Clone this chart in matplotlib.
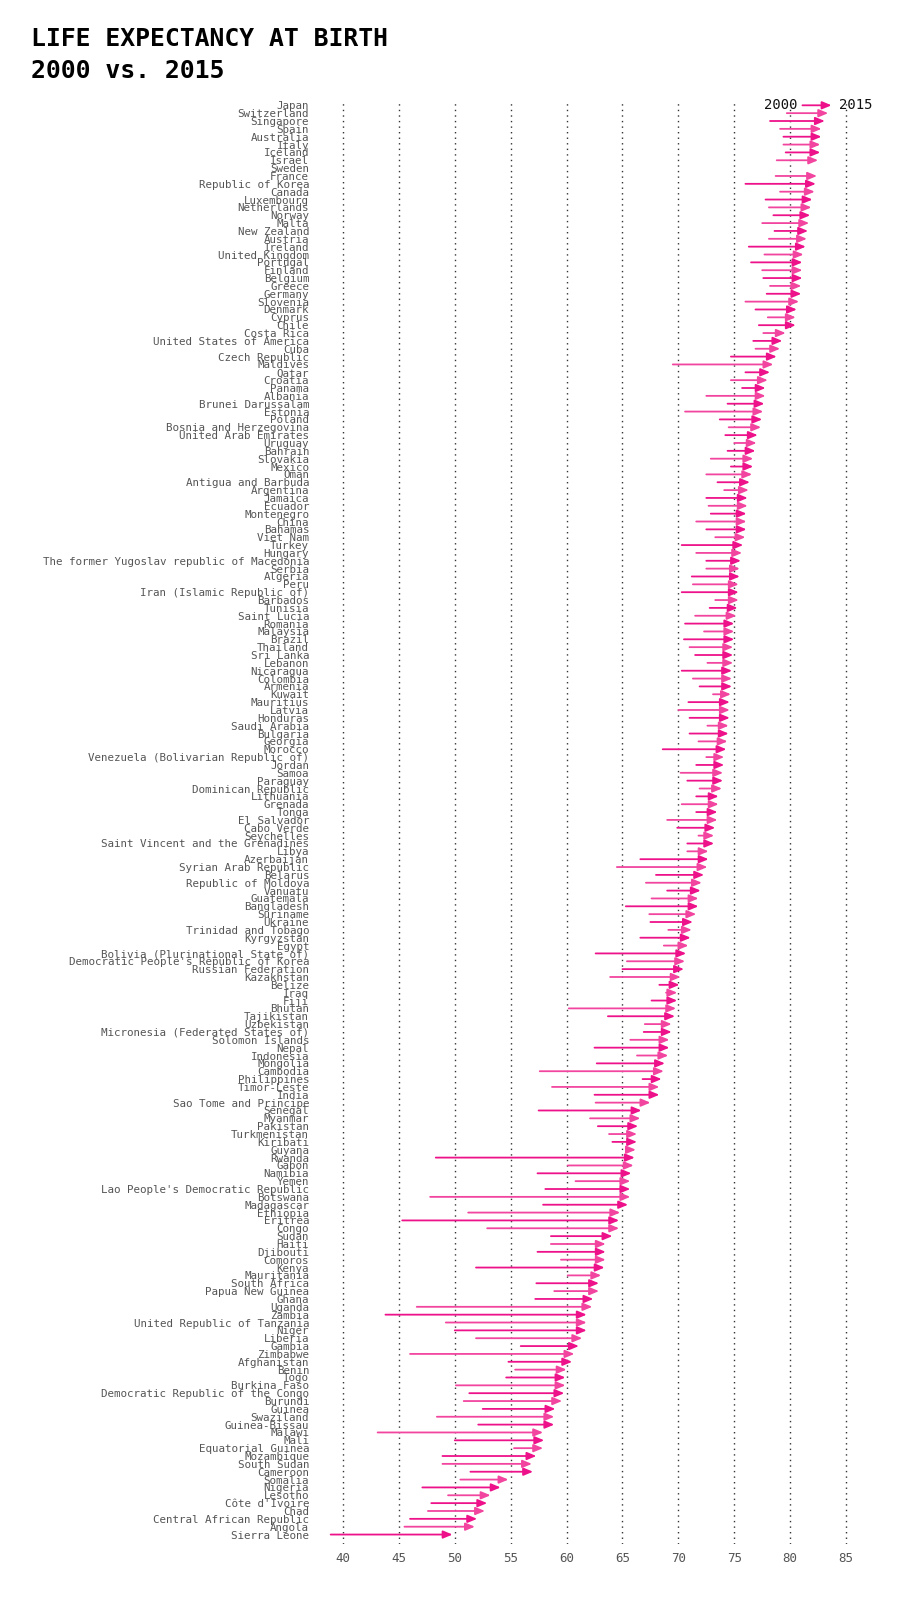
import matplotlib
matplotlib.use("Agg")
import matplotlib.pyplot as plt
import numpy as np

nan = float("nan")

countries = [
    "Japan", "Switzerland", "Singapore", "Spain", "Australia", "Italy", "Iceland", "Israel",
    "Sweden", "France", "Republic of Korea", "Canada", "Luxembourg", "Netherlands", "Norway",
    "Malta", "New Zealand", "Austria", "Ireland", "United Kingdom", "Portugal", "Finland",
    "Belgium", "Greece", "Germany", "Slovenia", "Denmark", "Cyprus", "Chile", "Costa Rica",
    "United States of America", "Cuba", "Czech Republic", "Maldives", "Qatar", "Croatia",
    "Panama", "Albania", "Brunei Darussalam", "Estonia", "Poland", "Bosnia and Herzegovina",
    "United Arab Emirates", "Uruguay", "Bahrain", "Slovakia", "Mexico", "Oman",
    "Antigua and Barbuda", "Argentina", "Jamaica", "Ecuador", "Montenegro", "China", "Bahamas",
    "Viet Nam", "Turkey", "Hungary", "The former Yugoslav republic of Macedonia", "Serbia",
    "Algeria", "Peru", "Iran (Islamic Republic of)", "Barbados", "Tunisia", "Saint Lucia",
    "Romania", "Malaysia", "Brazil", "Thailand", "Sri Lanka", "Lebanon", "Nicaragua",
    "Colombia", "Armenia", "Kuwait", "Mauritius", "Latvia", "Honduras", "Saudi Arabia",
    "Bulgaria", "Georgia", "Morocco", "Venezuela (Bolivarian Republic of)", "Jordan", "Samoa",
    "Paraguay", "Dominican Republic", "Lithuania", "Grenada", "Tonga", "El Salvador",
    "Cabo Verde", "Seychelles", "Saint Vincent and the Grenadines", "Libya", "Azerbaijan",
    "Syrian Arab Republic", "Belarus", "Republic of Moldova", "Vanuatu", "Guatemala",
    "Bangladesh", "Suriname", "Ukraine", "Trinidad and Tobago", "Kyrgyzstan", "Egypt",
    "Bolivia (Plurinational State of)", "Democratic People's Republic of Korea",
    "Russian Federation", "Kazakhstan", "Belize", "Iraq", "Fiji", "Bhutan", "Tajikistan",
    "Uzbekistan", "Micronesia (Federated States of)", "Solomon Islands", "Nepal", "Indonesia",
    "Mongolia", "Cambodia", "Philippines", "Timor-Leste", "India", "Sao Tome and Principe",
    "Senegal", "Myanmar", "Pakistan", "Turkmenistan", "Kiribati", "Guyana", "Rwanda", "Gabon",
    "Namibia", "Yemen", "Lao People's Democratic Republic", "Botswana", "Madagascar",
    "Ethiopia", "Eritrea", "Congo", "Sudan", "Haiti", "Djibouti", "Comoros", "Kenya",
    "Mauritania", "South Africa", "Papua New Guinea", "Ghana", "Uganda", "Zambia",
    "United Republic of Tanzania", "Niger", "Liberia", "Gambia", "Zimbabwe", "Afghanistan",
    "Benin", "Togo", "Burkina Faso", "Democratic Republic of the Congo", "Burundi", "Guinea",
    "Swaziland", "Guinea-Bissau", "Malawi", "Mali", "Equatorial Guinea", "Mozambique",
    "South Sudan", "Cameroon", "Somalia", "Nigeria", "Lesotho", "Côte d'Ivoire", "Chad",
    "Central African Republic", "Angola", "Sierra Leone",
]

life_2000 = [
    81.1, 79.7, 78.2, 79.1, 79.4, 79.4, 79.6, 78.8, nan, 78.7, 76.0, 79.1, 77.8, 78.1, 78.5,
    77.5, 78.6, 78.1, 76.3, 77.7, 76.5, 77.5, 77.6, 78.2, 77.9, 76.0, 76.9, 78.0, 77.2, 77.6,
    76.7, 76.9, 74.7, 69.5, 76.0, 74.7, 75.7, 72.5, 74.4, 70.6, 73.7, 74.5, 74.2, 75.0, 74.4,
    72.9, 74.7, 72.5, 73.5, 74.1, 72.5, 72.7, 72.9, 71.6, 72.5, 73.3, 70.3, 71.6, 72.5, 72.5,
    71.2, 71.3, 70.3, 73.3, 72.8, 71.5, 70.6, 72.3, 70.5, 71.0, 71.5, 72.6, 70.3, 71.3, 71.9,
    73.1, 70.9, 70.0, 71.0, 72.6, 71.0, 71.8, 68.6, 72.5, 71.6, 70.2, 70.8, 71.9, 71.6, 70.3,
    71.6, 69.0, 69.9, 71.8, 70.8, 70.8, 66.6, 64.5, 68.0, 67.1, 69.0, 67.6, 65.3, 67.4, 67.5,
    69.1, 66.6, 68.7, 62.6, 65.4, 65.0, 63.9, 68.3, 68.9, 67.6, 60.2, 63.7, 67.0, 66.9, 65.7,
    62.5, 66.3, 62.7, 57.6, 66.8, 58.7, 62.5, 62.6, 57.5, 62.1, 62.8, 63.8, 64.1, 65.4, 48.3,
    60.1, 57.4, 60.8, 58.1, 47.8, 57.9, 51.2, 45.3, 52.9, 58.6, 58.6, 57.4, 59.5, 51.9, 60.1,
    57.3, 58.9, 57.2, 46.6, 43.8, 49.2, 50.0, 51.9, 55.9, 46.0, 54.8, 55.4, 54.6, 50.1, 51.3,
    50.8, 52.5, 48.4, 52.1, 43.1, 50.0, 55.3, 48.9, 48.9, 51.4, 50.5, 47.1, 49.4, 47.9, 47.6,
    46.0, 45.5, 38.9,
]

life_2015 = [
    83.7, 83.4, 83.1, 82.8, 82.8, 82.7, 82.7, 82.5, nan, 82.4, 82.3, 82.2, 82.0, 81.9, 81.8,
    81.7, 81.6, 81.5, 81.4, 81.2, 81.1, 81.1, 81.1, 81.0, 81.0, 80.8, 80.6, 80.5, 80.5, 79.6,
    79.3, 79.1, 78.8, 78.5, 78.2, 78.0, 77.8, 77.8, 77.7, 77.6, 77.5, 77.4, 77.1, 77.0, 76.9,
    76.7, 76.7, 76.6, 76.4, 76.3, 76.2, 76.2, 76.1, 76.1, 76.1, 76.0, 75.8, 75.7, 75.6, 75.5,
    75.5, 75.4, 75.4, 75.4, 75.3, 75.2, 75.0, 75.0, 75.0, 74.9, 74.9, 74.9, 74.8, 74.8, 74.8,
    74.7, 74.6, 74.6, 74.6, 74.5, 74.5, 74.4, 74.3, 74.1, 74.1, 74.0, 74.0, 73.9, 73.6, 73.6,
    73.5, 73.5, 73.3, 73.2, 73.2, 72.7, 72.7, 72.6, 72.3, 72.1, 72.0, 71.8, 71.8, 71.6, 71.3,
    71.2, 71.1, 70.9, 70.7, 70.6, 70.5, 70.2, 70.1, 69.9, 69.9, 69.8, 69.7, 69.4, 69.4, 69.2,
    69.2, 69.1, 68.8, 68.7, 68.5, 68.3, 68.3, 67.5, 66.7, 66.6, 66.4, 66.3, 66.3, 66.2, 66.1,
    66.0, 65.8, 65.7, 65.7, 65.7, 65.5, 64.8, 64.7, 64.7, 64.1, 63.5, 63.5, 63.5, 63.4, 63.1,
    62.9, 62.9, 62.4, 62.3, 61.8, 61.8, 61.8, 61.4, 61.1, 60.7, 60.5, 60.0, 59.9, 59.9, 59.8,
    59.6, 59.0, 58.9, 58.9, 57.9, 58.0, 57.9, 57.3, 56.9, 57.0, 54.8, 54.1, 53.2, 52.9, 52.7,
    52.0, 51.8, 49.8,
]

x_ticks = [40, 45, 50, 55, 60, 65, 70, 75, 80, 85]

W, H = 918, 1598
fig = plt.figure(figsize=(W / 100, H / 100), dpi=100)
fig.patch.set_facecolor("white")

mono = ["DejaVu Sans Mono"]
n = len(countries)
px_per_row = 7.853
row0 = 105.3
top_px, bot_px = 100.0, 1544.0
y_top = (top_px - row0) / px_per_row
y_bot = (bot_px - row0) / px_per_row

xmin, xmax = 38.0, 87.0
ax_left = 320.6
ax_w = 547.8
ax = fig.add_axes([ax_left / W, 1 - bot_px / H, ax_w / W, (bot_px - top_px) / H])
ax.set_xlim(xmin, xmax)
ax.set_ylim(y_bot, y_top)

for s in ax.spines.values():
    s.set_visible(False)

for xv in x_ticks:
    ax.axvline(xv, color="#333333", linestyle=(0, (1, 3)), linewidth=1.0, zorder=0)

colors = ["#ee128a", "#f2459f"]
for i, (a, b) in enumerate(zip(life_2000, life_2015)):
    if np.isnan(a) or np.isnan(b):
        continue
    ax.annotate("", xy=(b, i), xytext=(a, i),
                arrowprops=dict(arrowstyle="-|>,head_length=1.0,head_width=0.42",
                                color=colors[i % 2], lw=1.3,
                                shrinkA=0, shrinkB=0, mutation_scale=5.5),
                zorder=3)

ax.set_yticks(range(n))
ax.set_yticklabels(countries, fontfamily=mono, fontsize=7.8, color="#555555")
ax.set_xticks(x_ticks)
ax.set_xticklabels([str(t) for t in x_ticks], fontfamily=mono, fontsize=9, color="#555555")
ax.tick_params(axis="y", length=0, pad=8.2)
ax.tick_params(axis="x", length=0, pad=6)

# legend labels on the first (Japan) arrow
ax.text(life_2000[0] - 0.45, 0, "2000", ha="right", va="center",
        fontfamily=mono, fontsize=10, color="#111111")
ax.text(life_2015[0] + 0.7, 0, "2015", ha="left", va="center",
        fontfamily=mono, fontsize=10, color="#111111")

fig.text(30.6 / W, 1 - 39 / H, "LIFE EXPECTANCY AT BIRTH", ha="left", va="center",
         fontfamily=mono, fontsize=17.8, fontweight="bold", color="black")
fig.text(30.6 / W, 1 - 71.5 / H, "2000 vs. 2015", ha="left", va="center",
         fontfamily=mono, fontsize=17.8, fontweight="bold", color="black")

fig.savefig("out.png", dpi=100, facecolor="white")
